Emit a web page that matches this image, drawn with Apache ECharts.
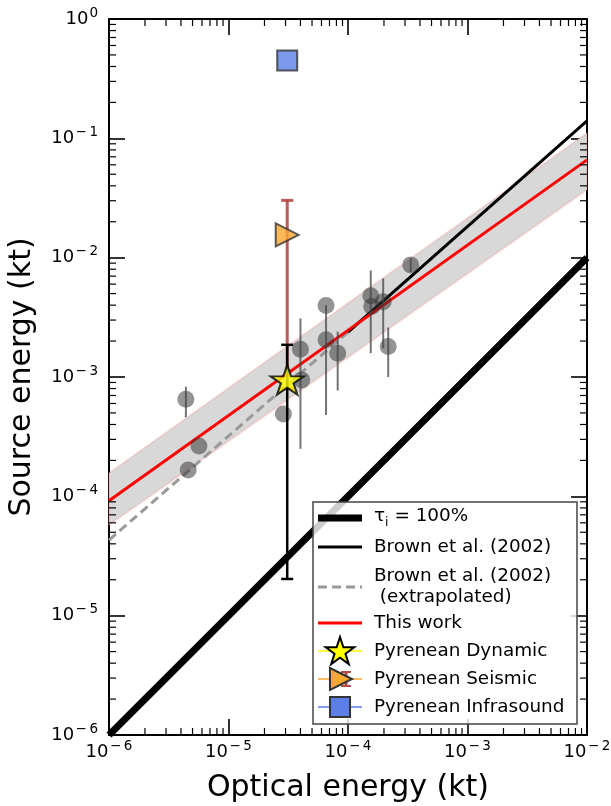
<!DOCTYPE html>
<html><head><meta charset="utf-8">
<script src="https://cdn.jsdelivr.net/npm/echarts@6/dist/echarts.min.js"></script>
<style>html,body{margin:0;padding:0;background:#fff}#c{width:611px;height:806px}</style>
</head><body><div id="c"></div>
<script>
// ---- axes / ticks ----
const xRange = [1e-6, 1e-2];
const yRange = [1e-6, 1];
const xMinorTicks = [2e-6,3e-6,4e-6,5e-6,6e-6,7e-6,8e-6,9e-6,2e-5,3e-5,4e-5,5e-5,6e-5,7e-5,8e-5,9e-5,2e-4,3e-4,4e-4,5e-4,6e-4,7e-4,8e-4,9e-4,2e-3,3e-3,4e-3,5e-3,6e-3,7e-3,8e-3,9e-3];
const yMinorTicks = [2e-6,3e-6,4e-6,5e-6,6e-6,7e-6,8e-6,9e-6,2e-5,3e-5,4e-5,5e-5,6e-5,7e-5,8e-5,9e-5,2e-4,3e-4,4e-4,5e-4,6e-4,7e-4,8e-4,9e-4,2e-3,3e-3,4e-3,5e-3,6e-3,7e-3,8e-3,9e-3,2e-2,3e-2,4e-2,5e-2,6e-2,7e-2,8e-2,9e-2,0.2,0.3,0.4,0.5,0.6,0.7,0.8,0.9];

// ---- observed events ----
const ptsX = [4.4e-6, 5.66e-6, 4.6e-6, 2.88e-5, 4.1e-5, 4.0e-5, 6.55e-5, 6.55e-5, 8.2e-5, 1.55e-4, 1.58e-4, 1.97e-4, 2.17e-4, 3.35e-4];
const ptsY = [6.5e-4, 2.64e-4, 1.66e-4, 4.9e-4, 9.46e-4, 1.71e-3, 3.97e-3, 2.05e-3, 1.58e-3, 4.79e-3, 3.89e-3, 4.28e-3, 1.80e-3, 8.7e-3];
const ptsLo = [4.6e-4, null, null, null, null, 2.5e-4, null, 4.8e-4, 7.7e-4, 1.58e-3, null, 1.74e-3, 1.0e-3, 7.6e-3];
const ptsHi = [8.3e-4, null, null, null, null, 3.1e-3, null, 4.0e-3, 2.4e-3, 7.8e-3, null, 6.7e-3, 2.6e-3, 9.9e-3];

// ---- Pyrenean event ----
const pyrX = 3.1e-5;
const dynY = 9.46e-4, dynLo = 2.03e-5, dynHi = 1.86e-3;
const seisY = 1.55e-2, seisLo = 8.0e-4, seisHi = 3.02e-2;
const infraY = 0.449;

// ---- relations ----
const tauX = [1e-6, 1e-2], tauY = [1e-6, 1e-2];
const brownX = [1e-4, 1e-2], brownY = [2.38e-3, 0.14];
const brownExtX = [1e-6, 1e-4], brownExtY = [4.3e-5, 2.38e-3];
const thisX = [1e-6, 1e-2], thisY = [9.2e-5, 0.066];
const bandUpper = [1.57e-4, 0.111], bandLower = [5.75e-5, 0.037];

const FONT = 'DejaVu Sans';
const MINUS = '\u2212';
function expLabel(v){
  const e = Math.round(Math.log10(v));
  return e < 0 ? '{b|10}{m|' + MINUS + '}{s|' + (-e) + '}' : '{b|10}{s|' + e + '}';
}
const labelRich = {
  b: {fontSize: 18, lineHeight: 26, fontFamily: FONT, color: '#000'},
  m: {fontSize: 13.5, lineHeight: 14, verticalAlign: 'top', padding: [0, 1.5, 0, 1.5], fontFamily: FONT, color: '#000'},
  s: {fontSize: 13.5, lineHeight: 14, verticalAlign: 'top', padding: [0, 0, 0, 1], fontFamily: FONT, color: '#000'}
};
const zip = (a, b) => a.map((v, i) => [v, b[i]]);

function errRender(color, width, cap){
  return function(params, api){
    const x = api.value(0), lo = api.value(2), hi = api.value(3);
    const a = api.coord([x, hi]), b = api.coord([x, lo]);
    const st = {stroke: color, lineWidth: width};
    const ch = [{type:'line', shape:{x1:a[0], y1:a[1], x2:b[0], y2:b[1]}, style: st}];
    if (cap) {
      ch.push({type:'line', shape:{x1:a[0]-cap/2, y1:a[1], x2:a[0]+cap/2, y2:a[1]}, style: st});
      ch.push({type:'line', shape:{x1:b[0]-cap/2, y1:b[1], x2:b[0]+cap/2, y2:b[1]}, style: st});
    }
    return {type:'group', children: ch};
  };
}

const STAR = 'path://M100,0 L122.45,69.1 L195.11,69.1 L136.33,111.8 L158.78,180.9 L100,138.2 L41.22,180.9 L63.67,111.8 L4.89,69.1 L77.55,69.1 Z';

const errData = [];
ptsX.forEach((x, i) => { if (ptsLo[i] != null) errData.push([x, ptsY[i], ptsLo[i], ptsHi[i]]); });

const chart = echarts.init(document.getElementById('c'), null, {renderer: 'canvas'});

function axisCommon(range){
  return {
    type: 'log', logBase: 10, min: range[0], max: range[1],
    axisLine: {show: true, lineStyle: {color: '#000', width: 2}},
    axisTick: {show: true, inside: true, length: 16, lineStyle: {color: '#000', width: 1.6}},
    minorTick: {show: false},
    splitLine: {show: false}
  };
}

// legend (drawn as graphic)
const L = {x: 313, y: 502, w: 264, h: 222, hx1: 318, hx2: 362, tx: 374};
function starPoints(cx, cy, R){
  const pts = [];
  for (let k = 0; k < 10; k++){
    const r = k % 2 === 0 ? R : R * 0.382;
    const ang = (-90 + k * 36) * Math.PI / 180;
    pts.push([cx + r * Math.cos(ang), cy + r * Math.sin(ang)]);
  }
  return pts;
}
const hc = (L.hx1 + L.hx2) / 2;
const txtStyle = (t, y) => ({type:'text', x: L.tx, y: y, style: {text: t, font: '18.4px "DejaVu Sans"', fill: '#000', textVerticalAlign: 'middle'}});
const legendEls = [
  {type:'rect', shape:{x:L.x, y:L.y, width:L.w, height:L.h}, style:{fill:'rgba(255,255,255,0.8)', stroke:'#444', lineWidth:1.5}},
  {type:'line', shape:{x1:L.hx1, y1:518, x2:L.hx2, y2:518}, style:{stroke:'#000', lineWidth:7}},
  {type:'text', x: L.tx, y: 518, style:{text:'{t|\u03c4}{s|i}{t| = 100%}', fill:'#000', textVerticalAlign:'middle',
    rich:{t:{fontSize:18.4, fontFamily:FONT, lineHeight:22, verticalAlign:'top'}, s:{fontSize:12.5, fontFamily:FONT, lineHeight:12, verticalAlign:'bottom'}}}},
  {type:'line', shape:{x1:L.hx1, y1:547, x2:L.hx2, y2:547}, style:{stroke:'#000', lineWidth:3}},
  txtStyle('Brown et al. (2002)', 547),
  {type:'line', shape:{x1:L.hx1, y1:587, x2:L.hx2, y2:587}, style:{stroke:'#999', lineWidth:3, lineDash:[9,5]}},
  txtStyle('Brown et al. (2002)', 576),
  txtStyle(' (extrapolated)', 597),
  {type:'line', shape:{x1:L.hx1, y1:623, x2:L.hx2, y2:623}, style:{stroke:'#ff0000', lineWidth:3}},
  txtStyle('This work', 623),
  {type:'line', shape:{x1:L.hx1, y1:651, x2:L.hx2, y2:651}, style:{stroke:'#ffff00', lineWidth:1.5}},
  {type:'polygon', shape:{points: starPoints(hc, 652, 15)}, style:{fill:'#ffff00', stroke:'#000', lineWidth:2}},
  txtStyle('Pyrenean Dynamic', 651),
  {type:'line', shape:{x1:L.hx1, y1:679, x2:L.hx2, y2:679}, style:{stroke:'#f9a830', lineWidth:1.5}},
  {type:'line', shape:{x1:hc+6, y1:672, x2:hc+6, y2:686}, style:{stroke:'#b84a4a', lineWidth:3}},
  {type:'line', shape:{x1:hc+1, y1:672, x2:hc+11, y2:672}, style:{stroke:'#b84a4a', lineWidth:2}},
  {type:'line', shape:{x1:hc+1, y1:686, x2:hc+11, y2:686}, style:{stroke:'#b84a4a', lineWidth:2}},
  {type:'polygon', shape:{points:[[hc-10, 668],[hc+12, 679],[hc-10, 690]]}, style:{fill:'#f9a830', stroke:'#333', lineWidth:2}},
  txtStyle('Pyrenean Seismic', 679),
  {type:'line', shape:{x1:L.hx1, y1:707, x2:L.hx2, y2:707}, style:{stroke:'#5b7fe6', lineWidth:1.5}},
  {type:'rect', shape:{x:hc-10, y:697, width:20, height:20}, style:{fill:'#5b7fe6', stroke:'#333', lineWidth:2}},
  txtStyle('Pyrenean Infrasound', 707)
];

const option = {
  animation: false,
  backgroundColor: '#fff',
  grid: {left: 109, right: 24, top: 19, bottom: 71, containLabel: false, outerBoundsMode: 'none'},
  xAxis: [
    Object.assign(axisCommon(xRange), {
      position: 'bottom',
      name: 'Optical energy (kt)', nameLocation: 'middle', nameGap: 38,
      nameTextStyle: {fontSize: 30, fontFamily: FONT, color: '#000'},
      axisLabel: {show: true, margin: 4, fontSize: 18, formatter: expLabel, rich: labelRich, fontFamily: FONT, color: '#000', showMinLabel: true, showMaxLabel: true}
    }),
    Object.assign(axisCommon(xRange), {position: 'top', axisLabel: {show: false}})
  ],
  yAxis: [
    Object.assign(axisCommon(yRange), {
      position: 'left',
      name: 'Source energy (kt)', nameLocation: 'middle', nameGap: 72, nameRotate: 90,
      nameTextStyle: {fontSize: 30, fontFamily: FONT, color: '#000'},
      axisLabel: {show: true, margin: 11, fontSize: 18, formatter: expLabel, rich: labelRich, fontFamily: FONT, color: '#000', showMinLabel: true, showMaxLabel: true}
    }),
    Object.assign(axisCommon(yRange), {position: 'right', axisLabel: {show: false}})
  ],
  series: [
    {
      type: 'custom', z: 1, silent: true,
      data: [[thisX[0], thisY[0]]],
      renderItem: function(params, api){
        const p1 = api.coord([thisX[0], bandUpper[0]]);
        const p2 = api.coord([thisX[1], bandUpper[1]]);
        const p3 = api.coord([thisX[1], bandLower[1]]);
        const p4 = api.coord([thisX[0], bandLower[0]]);
        return {type:'polygon', shape:{points:[p1,p2,p3,p4]}, style:{fill:'#d8d8d8', stroke:'rgba(255,90,90,0.16)', lineWidth:2}};
      }
    },
    {type:'line', z: 2, data: zip(tauX, tauY), symbol:'none', lineStyle:{color:'#000', width:7}},
    {type:'line', z: 3, data: zip(brownExtX, brownExtY), symbol:'none', lineStyle:{color:'#999', width:3, type:[9,5]}},
    {type:'line', z: 3, data: zip(brownX, brownY), symbol:'none', lineStyle:{color:'#000', width:3}},
    {type:'line', z: 4, data: zip(thisX, thisY), symbol:'none', lineStyle:{color:'#ff0000', width:3}},
    {type:'scatter', z: 5, data: zip(ptsX, ptsY), symbol:'circle', symbolSize: 17, itemStyle:{color:'rgba(50,50,50,0.65)'}},
    {type:'custom', z: 6, data: errData, encode:{x:0, y:1}, renderItem: errRender('rgba(70,70,70,0.75)', 2, 0)},
    {type:'custom', z: 7, data: xMinorTicks.map(v => [v, 1e-3]), encode:{x:0, y:1},
      renderItem: function(params, api){
        const v = api.value(0);
        const b = api.coord([v, yRange[0]]), t = api.coord([v, yRange[1]]);
        const st = {stroke:'#000', lineWidth:1.2};
        return {type:'group', children:[
          {type:'line', shape:{x1:b[0], y1:b[1], x2:b[0], y2:b[1]-7}, style: st},
          {type:'line', shape:{x1:t[0], y1:t[1], x2:t[0], y2:t[1]+7}, style: st}
        ]};
      }},
    {type:'custom', z: 7, data: yMinorTicks.map(v => [1e-4, v]), encode:{x:0, y:1},
      renderItem: function(params, api){
        const v = api.value(1);
        const l = api.coord([xRange[0], v]), r = api.coord([xRange[1], v]);
        const st = {stroke:'#000', lineWidth:1.2};
        return {type:'group', children:[
          {type:'line', shape:{x1:l[0], y1:l[1], x2:l[0]+7, y2:l[1]}, style: st},
          {type:'line', shape:{x1:r[0], y1:r[1], x2:r[0]-7, y2:r[1]}, style: st}
        ]};
      }},
    {type:'custom', z: 8, data: [[pyrX, seisY, seisLo, seisHi]], encode:{x:0, y:1}, renderItem: errRender('rgba(180,60,60,0.85)', 3, 12)},
    {type:'custom', z: 9, data: [[pyrX, dynY, dynLo, dynHi]], encode:{x:0, y:1}, renderItem: errRender('#000', 2.5, 12)},
    {type:'scatter', z: 10, data: [[pyrX, seisY]], symbol:'triangle', symbolRotate: -90, symbolSize: 23,
      itemStyle:{color:'#f9a830', borderColor:'#333', borderWidth:2}},
    {type:'scatter', z: 11, data: [[pyrX, dynY]], symbol: STAR, symbolKeepAspect: true, symbolSize: [33, 31],
      itemStyle:{color:'#ffff00', borderColor:'#000', borderWidth:2}},
    {type:'scatter', z: 11, data: [[pyrX, infraY]], symbol:'rect', symbolSize: 20,
      itemStyle:{color:'#5b7fe6', borderColor:'#333', borderWidth:2}}
  ],
  graphic: {elements: legendEls.map(e => Object.assign({z: 100}, e))}
};
chart.setOption(option);
</script>
</body></html>
